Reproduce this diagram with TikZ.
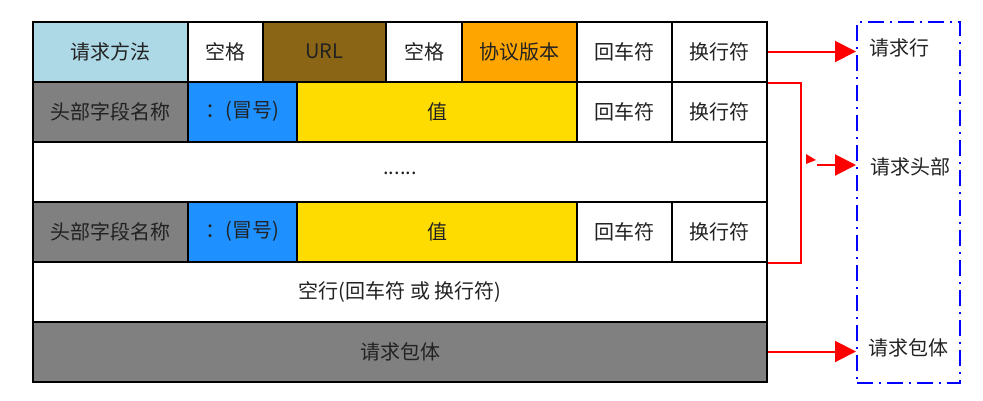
\documentclass[tikz,border=0pt]{standalone}
\usepackage{fontspec}
\setmainfont{Noto Sans CJK SC}
\usetikzlibrary{arrows.meta,calc}
\definecolor{methodblue}{HTML}{ADD8E6}
\definecolor{urlbrown}{HTML}{8B6516}
\definecolor{versionorange}{HTML}{FFA500}
\definecolor{fieldgray}{HTML}{808080}
\definecolor{colonblue}{HTML}{1E90FF}
\definecolor{valuegold}{HTML}{FFDC00}
\definecolor{textink}{HTML}{222222}
\tikzset{
  msg diagram/.style={
    x=1pt, y=-1pt,
    font=\fontsize{20}{23}\selectfont,
    line join=miter
  },
  cell/.style={
    draw=black,
    line width=2pt,
    fill=white,
    text=textink,
    inner sep=0pt,
    minimum height=60pt
  },
  framebox/.style={
    draw=blue,
    line width=2pt,
    dash pattern=on 16pt off 6pt on 2pt off 6pt,
    inner sep=0pt
  },
  parttag/.style={
    anchor=west,
    text=textink,
    inner sep=0pt
  },
  redarrow/.style={draw=red, line width=2pt, -{Triangle[length=21pt,width=21pt]}},
  redline/.style={draw=red, line width=2pt}
}
\begin{document}
\begin{tikzpicture}[msg diagram]
\useasboundingbox (0,0) rectangle (983,400);
% request line
\node[cell, fill=methodblue, minimum width=155pt] (method) at (110.5,51.5) {请求方法};
\node[cell, minimum width=75pt] (space1) at (225.5,51.5) {空格};
\node[cell, fill=urlbrown, minimum width=123pt] (url) at (324.5,51.5) {URL};
\node[cell, minimum width=76pt] (space2) at (424,51.5) {空格};
\node[cell, fill=versionorange, minimum width=115pt] (version) at (519.5,51.5) {协议版本};
\node[cell, minimum width=95pt] (cr1) at (624.5,51.5) {回车符};
\node[cell, minimum width=95pt] (lf1) at (719.5,51.5) {换行符};
% header lines
\node[cell, fill=fieldgray, minimum width=155pt] (name1) at (110.5,111.5) {头部字段名称};
\node[cell, fill=colonblue, minimum width=109pt] (colon1) at (242.5,111.5) {：(冒号)};
\node[cell, fill=valuegold, minimum width=280pt] (value1) at (437,111.5) {值};
\node[cell, minimum width=95pt] (cr2) at (624.5,111.5) {回车符};
\node[cell, minimum width=95pt] (lf2) at (719.5,111.5) {换行符};
\node[cell, minimum width=734pt] (more) at (400,171.5) {\raisebox{-6pt}{......}};
\node[cell, fill=fieldgray, minimum width=155pt] (name4) at (110.5,231.5) {头部字段名称};
\node[cell, fill=colonblue, minimum width=109pt] (colon4) at (242.5,231.5) {：(冒号)};
\node[cell, fill=valuegold, minimum width=280pt] (value4) at (437,231.5) {值};
\node[cell, minimum width=95pt] (cr4) at (624.5,231.5) {回车符};
\node[cell, minimum width=95pt] (lf4) at (719.5,231.5) {换行符};
% blank line and body
\node[cell, minimum width=734pt] (blank) at (400,291.5) {空行(回车符 或 换行符)};
\node[cell, fill=fieldgray, minimum width=734pt] (body) at (400,351.5) {请求包体};
% parts
\node[framebox, minimum width=103pt, minimum height=361pt] (frame) at (908.5,202.5) {};
\node[parttag] (linetag) at (869,48) {请求行};
\node[parttag] (headtag) at (870,167) {请求头部};
\node[parttag] (bodytag) at (868,348) {请求包体};
\draw[redarrow] (lf1.east) -- (lf1.east -| frame.west);
\draw[redline] (lf1.south east) -- ++(33,0) |- (lf4.south east);
\fill[red] (806,154) -- (816,160) -- (806,164) -- cycle;
\coordinate (headtail) at (817,165);
\draw[redarrow] (headtail) -- (headtail -| frame.west);
\draw[redarrow] (body.east) -- (body.east -| frame.west);
\end{tikzpicture}
\end{document}
